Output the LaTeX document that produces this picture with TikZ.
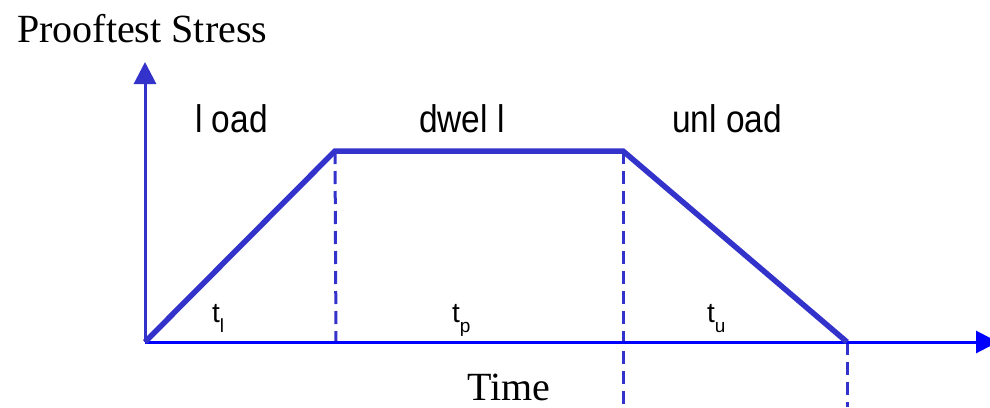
\documentclass[tikz,border=0pt]{standalone}
\usepackage{fontspec}
\setmainfont{Liberation Serif}
\newfontfamily\labelfont{Liberation Sans}
\usetikzlibrary{arrows.meta}
\definecolor{trapblue}{HTML}{3333CC}
\definecolor{axisblue}{HTML}{0000FF}
\newcommand{\phaselabel}[1]{\scalebox{0.93}[1.07]{\labelfont\fontsize{36}{40}\selectfont #1}}
\newcommand{\tlabel}[1]{{\labelfont\fontsize{28}{30}\selectfont t\raisebox{-10pt}{\fontsize{19}{20}\selectfont #1}}}
\begin{document}
\begin{tikzpicture}[x=1pt,y=-1pt,
  axisline/.style={line width=3pt},
  trapline/.style={draw=trapblue,line width=5.5pt,line join=miter},
  dashline/.style={draw=trapblue,line width=3pt,dash pattern=on 13pt off 7pt},
  serifbig/.style={inner sep=0pt,anchor=base west,font=\fontsize{40}{48}\selectfont},
  phase/.style={inner sep=0pt,anchor=base west},
  tnode/.style={inner sep=0pt,anchor=base west}]
\useasboundingbox (0,0) rectangle (990,407);
\coordinate (O) at (145,342);
\coordinate (Ytop) at (145,62);
\coordinate (Xend) at (998,342);
\coordinate (A) at (335,151);
\coordinate (B) at (623,151);
\coordinate (C) at (847,342);
\coordinate (Adown) at (336,342);
\coordinate (Bdown) at (623,407);
\coordinate (Cdown) at (847,407);
% dashed verticals
\draw[dashline] (A) -- (Adown);
\draw[dashline] (B) -- (Bdown);
\draw[dashline] (C) -- (Cdown);
% axes
\draw[axisline,draw=trapblue,-{Triangle[width=22pt,length=22pt]}] (O) -- (Ytop);
\draw[axisline,draw=axisblue,-{Triangle[width=22pt,length=22pt]}] (O) -- (Xend);
% trapezoid
\draw[trapline] (O) -- (A) -- (B) -- (C);
% labels
\node[serifbig] (ylab) at (17,42) {Prooftest Stress};
\node[serifbig] (xlab) at (467,400) {Time};
\node[phase] (load) at (195,132) {\phaselabel{l oad}};
\node[phase] (dwell) at (419,132) {\phaselabel{dwel l}};
\node[phase] (unload) at (672,132) {\phaselabel{unl oad}};
\node[tnode] (tl) at (212,322) {\tlabel{l}};
\node[tnode] (tp) at (452,322) {\tlabel{p}};
\node[tnode] (tu) at (707,322) {\tlabel{u}};
\end{tikzpicture}
\end{document}
